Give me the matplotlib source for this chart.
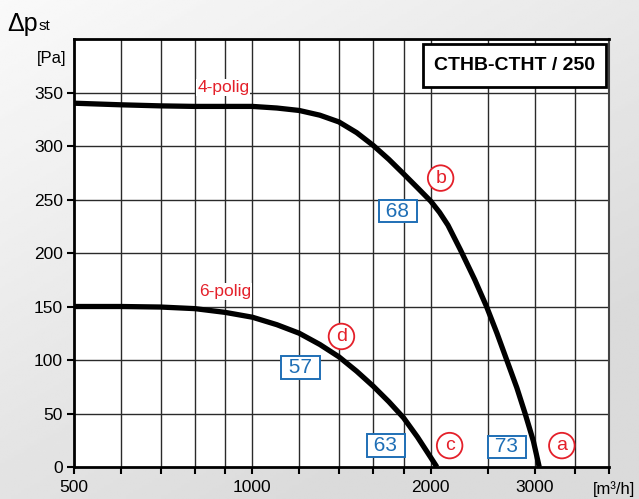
import numpy as np
import matplotlib
matplotlib.use('Agg')
from matplotlib import pyplot as plt
from matplotlib.patches import Rectangle
from matplotlib.ticker import FixedLocator, NullFormatter, NullLocator

plt.rcParams['font.family'] = ['Liberation Sans', 'DejaVu Sans']

# 4-polig curve (flow m3/h, pressure Pa)
flow4 = [500, 600, 700, 800, 900, 1000, 1100, 1200, 1300, 1400, 1500, 1600, 1700, 1800,
         1900, 2000, 2070, 2139, 2245, 2374, 2485, 2588, 2688, 2796, 2887, 2982, 3050]
p4 = [340, 338.5, 337.5, 337, 337, 337, 335.5, 333.2, 328.8, 322.5, 312.5, 300.5, 287.5, 274,
      261, 248.5, 238, 226, 203, 175, 150, 125, 100, 74, 50, 24, 0]

# 6-polig curve
flow6 = [500, 600, 700, 800, 900, 1000, 1100, 1200, 1300, 1400, 1500, 1600, 1700, 1800,
         1900, 2000, 2049]
p6 = [150, 150, 149.5, 148, 144.5, 140, 133, 125, 114.5, 103, 89.5, 75.5, 61, 46, 28, 9, 0]

grid_x = [600, 700, 800, 900, 1000, 1200, 1400, 1600, 1800, 2000, 2500, 3000, 3500]
xlabels = [500, 1000, 2000, 3000]
yticks = [0, 50, 100, 150, 200, 250, 300, 350]

# labels: (text, x, y)
curve_labels = [('4-polig', 893, 355), ('6-polig', 900, 164)]
circles = [('b', 2079, 270), ('d', 1414, 122), ('c', 2153, 20), ('a', 3330, 20)]
boxes = [('68', 1759, 239), ('57', 1206, 93), ('63', 1679, 20), ('73', 2688, 19)]

fig = plt.figure(figsize=(6.39, 4.99), dpi=100)

# gradient background
bg = fig.add_axes([0, 0, 1, 1], zorder=-5)
yy, xx = np.mgrid[0:1:200j, 0:1:200j]
g = 0.978 - 0.12 * np.clip(0.55 * xx + 0.75 * yy, 0, 1)
bg.imshow(g, cmap='gray', vmin=0, vmax=1, aspect='auto', extent=[0, 1, 0, 1], origin='upper')
bg.set_xlim(0, 1)
bg.set_ylim(0, 1)
bg.axis('off')

ax = fig.add_axes([74/639, 1 - 467/499, (609 - 74)/639, (467 - 39)/499])
ax.set_facecolor('white')
ax.set_xscale('log')
ax.set_xlim(500, 4000)
ax.set_ylim(0, 400)

for gx in grid_x:
    ax.axvline(gx, color='#2a2a2a', lw=1.0, zorder=1)
for gy in yticks[1:]:
    ax.axhline(gy, color='#2a2a2a', lw=1.0, zorder=1)

ax.plot(flow4, p4, color='black', lw=3.8, solid_joinstyle='round', solid_capstyle='butt', zorder=3)
ax.plot(flow6, p6, color='black', lw=3.8, solid_joinstyle='round', solid_capstyle='butt', zorder=3)

ax.xaxis.set_major_locator(FixedLocator([500] + grid_x + [4000]))
ax.xaxis.set_minor_locator(NullLocator())
ax.xaxis.set_major_formatter(NullFormatter())
ax.xaxis.set_minor_formatter(NullFormatter())
ax.set_yticks(yticks)
ax.set_yticklabels([str(v) for v in yticks])
ax.tick_params(axis='both', direction='out', length=5, width=1.5, color='black',
               labelsize=12.5, pad=2)
ax.tick_params(axis='y', pad=3)

for x in xlabels:
    ax.text(x, -12, str(x), ha='center', va='top', fontsize=12.5)

for s in ['left', 'bottom', 'top']:
    ax.spines[s].set_linewidth(2)
    ax.spines[s].set_color('black')
ax.spines['right'].set_linewidth(1.5)
ax.spines['right'].set_color('#444444')

red = '#e4202a'
blue = '#1f6fb6'
for t, x, y in curve_labels:
    ax.text(x, y, t, color=red, fontsize=12.5, ha='center', va='center', zorder=4,
            bbox=dict(boxstyle='square,pad=0.05', fc='white', ec='none'))
for t, x, y in circles:
    ax.text(x, y, t, color=red, fontsize=14, ha='center', va='center', zorder=4,
            bbox=dict(boxstyle='circle,pad=0.22', fc='white', ec=red, lw=1.3))
for t, x, y in boxes:
    ax.text(x, y, ' ' + t + ' ', color=blue, fontsize=15, ha='center', va='center', zorder=4,
            bbox=dict(boxstyle='square,pad=0.08', fc='white', ec=blue, lw=1.4))

# title box
fig.patches.append(Rectangle((423/639, 1 - 87/499), 183/639, 43/499, transform=fig.transFigure,
                             fc='white', ec='black', lw=2, zorder=5))
fig.text(514.5/639, 1 - 66/499, 'CTHB-CTHT / 250', ha='center', va='center',
         fontsize=14, fontweight='bold', zorder=6)

fig.text(7/639, 1 - 31/499, '\u0394p', fontsize=18, ha='left', va='baseline')
fig.text(39/639, 1 - 30.5/499, 'st', fontsize=11, ha='left', va='baseline')
fig.text(66/639, 1 - 58/499, '[Pa]', fontsize=12, ha='right', va='center')
fig.text(635/639, 1 - 489/499, '[m\u00b3/h]', fontsize=12, ha='right', va='center')

fig.savefig('out.png', dpi=100)
